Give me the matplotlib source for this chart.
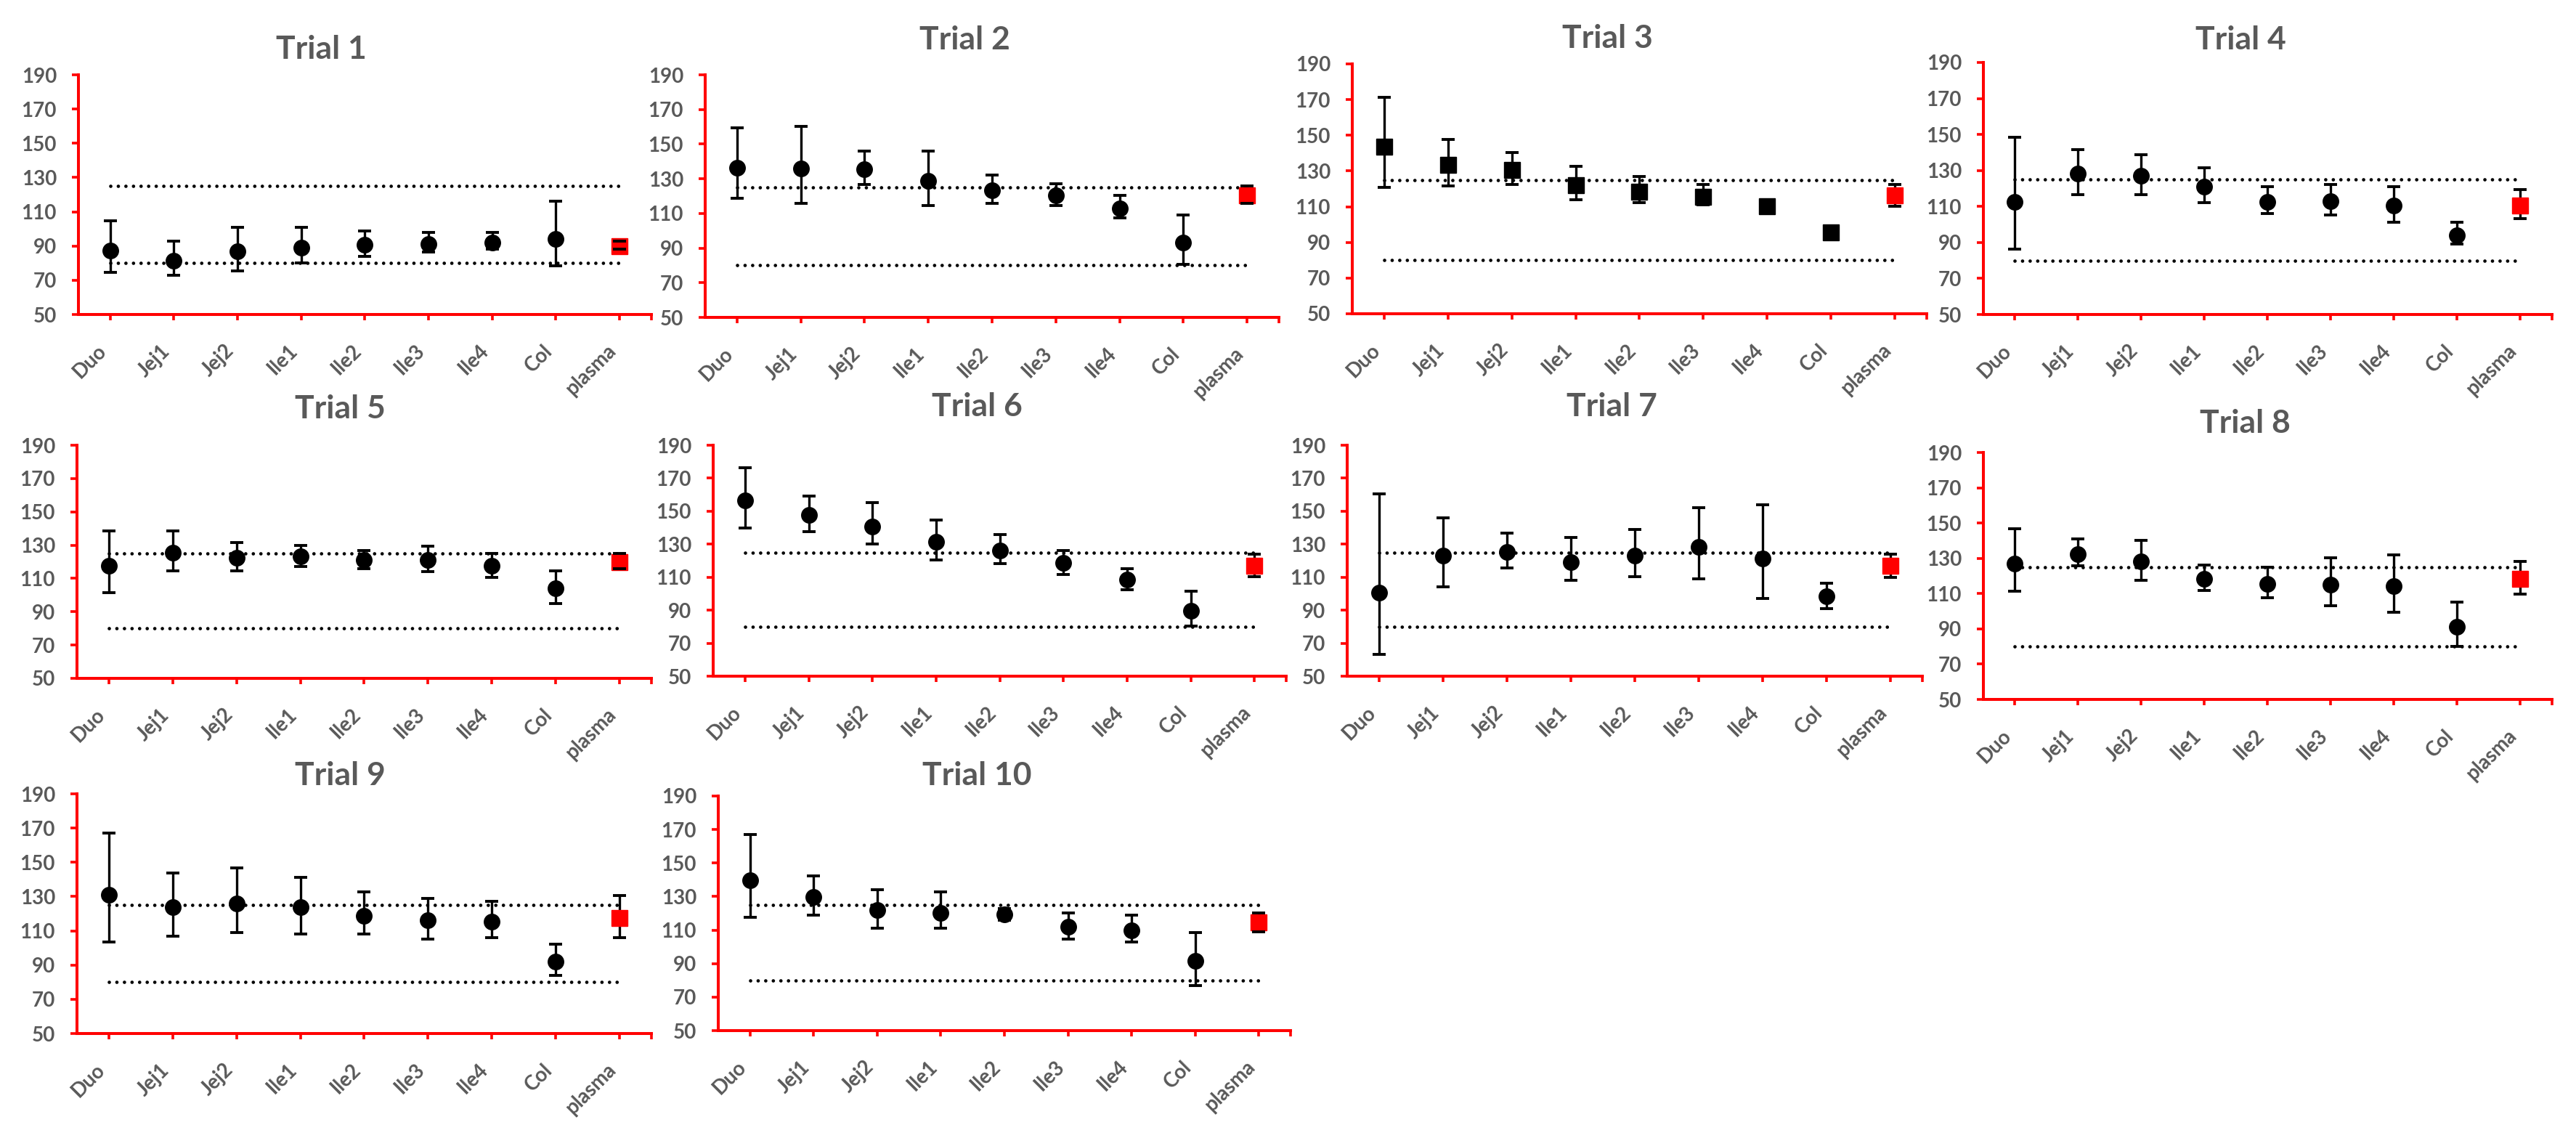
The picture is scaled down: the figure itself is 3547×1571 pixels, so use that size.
import matplotlib
matplotlib.use("Agg")
import matplotlib.pyplot as plt
import numpy as np

# ---------------- data ----------------
categories = ["Duo", "Jej1", "Jej2", "Ile1", "Ile2", "Ile3", "Ile4", "Col", "plasma"]
y_ticks = [50, 70, 90, 110, 130, 150, 170, 190]
ref_upper = 125
ref_lower = 80

t1_mean = [87.5, 81.5, 86.8, 88.9, 90.6, 91.3, 92.0, 94.1, 90.0]
t1_hi   = [104.7, 92.9, 100.9, 100.9, 98.8, 97.8, 97.8, 116.1, 92.9]
t1_lo   = [74.5, 73.1, 75.5, 80.1, 83.9, 86.4, 88.2, 78.3, 88.2]

t2_mean = [136.5, 135.8, 135.7, 128.7, 123.2, 120.3, 113.0, 93.0, 120.3]
t2_hi   = [159.2, 160.2, 145.9, 145.9, 132.2, 127.0, 120.3, 109.1, 126.0]
t2_lo   = [118.6, 115.8, 126.6, 114.4, 115.8, 114.7, 107.4, 80.8, 115.8]

t3_mean = [143.5, 133.6, 130.7, 121.9, 118.2, 115.7, 110.1, 95.5, 116.2]
t3_hi   = [171.2, 147.6, 140.4, 132.6, 126.8, 122.4, 113.0, 98.5, 122.4]
t3_lo   = [121.0, 121.6, 122.4, 113.9, 112.1, 111.2, 107.0, 92.5, 110.1]

t4_mean = [112.5, 128.2, 126.9, 120.9, 112.5, 113.1, 110.5, 94.1, 110.7]
t4_hi   = [148.5, 141.4, 138.7, 131.7, 120.9, 122.1, 120.9, 101.3, 119.5]
t4_lo   = [86.3, 116.5, 116.5, 112.2, 106.0, 105.1, 101.1, 89.0, 103.1]

t5_mean = [117.7, 125.6, 122.4, 123.1, 120.9, 120.9, 117.7, 103.9, 119.9]
t5_hi   = [138.4, 138.4, 131.4, 129.7, 126.8, 129.2, 125.0, 114.7, 125.0]
t5_lo   = [101.6, 114.7, 114.4, 117.3, 115.9, 114.1, 110.5, 95.1, 115.9]

t6_mean = [156.5, 147.8, 140.7, 131.6, 126.0, 118.7, 108.4, 89.7, 117.1]
t6_hi   = [176.5, 159.4, 155.4, 144.7, 136.0, 126.0, 115.3, 101.3, 123.8]
t6_lo   = [139.6, 137.5, 130.0, 120.4, 118.2, 111.8, 102.5, 80.4, 110.3]

t7_mean = [100.5, 122.9, 125.1, 119.3, 123.2, 128.4, 121.5, 98.3, 116.9]
t7_hi   = [160.7, 146.1, 136.6, 133.9, 139.1, 152.0, 153.8, 106.5, 124.1]
t7_lo   = [63.1, 104.2, 115.6, 108.0, 110.2, 109.0, 97.3, 90.9, 109.7]

t8_mean = [127.2, 132.2, 128.1, 118.5, 115.5, 115.1, 114.4, 91.0, 118.5]
t8_hi   = [146.7, 140.9, 140.1, 126.3, 125.0, 130.2, 132.0, 105.2, 128.4]
t8_lo   = [111.2, 125.6, 117.5, 111.6, 107.5, 103.0, 99.5, 80.0, 109.6]

t9_mean = [131.2, 123.8, 126.1, 123.8, 118.9, 116.2, 115.4, 92.0, 117.6]
t9_hi   = [167.1, 143.7, 146.7, 141.4, 132.7, 128.7, 127.2, 102.0, 130.7]
t9_lo   = [103.6, 107.0, 109.0, 108.1, 108.1, 105.2, 105.9, 84.1, 105.9]

t10_mean = [139.6, 129.7, 121.9, 120.3, 119.5, 112.1, 109.7, 91.5, 114.5]
t10_hi   = [167.1, 142.5, 133.9, 132.6, 123.0, 120.2, 118.8, 108.6, 120.3]
t10_lo   = [117.8, 118.8, 111.3, 111.3, 116.0, 104.7, 102.7, 77.0, 108.9]

trial_titles = ["Trial 1", "Trial 2", "Trial 3", "Trial 4", "Trial 5",
                "Trial 6", "Trial 7", "Trial 8", "Trial 9", "Trial 10"]
trial_data = [
    (t1_mean, t1_hi, t1_lo), (t2_mean, t2_hi, t2_lo), (t3_mean, t3_hi, t3_lo),
    (t4_mean, t4_hi, t4_lo), (t5_mean, t5_hi, t5_lo), (t6_mean, t6_hi, t6_lo),
    (t7_mean, t7_hi, t7_lo), (t8_mean, t8_hi, t8_lo), (t9_mean, t9_hi, t9_lo),
    (t10_mean, t10_hi, t10_lo),
]
marker_shapes = ["o", "o", "s", "o", "o", "o", "o", "o", "o", "o"]

# ---------------- layout (pixels) ----------------
W, H = 3548, 1571
# (left, top, right, bottom) of each plot area
rects = [
    (108, 103, 897, 433), (971, 103, 1761, 437), (1862, 88, 2653, 432), (2731, 86, 3514, 433),
    (106, 613, 897, 934), (982, 613, 1771, 931), (1855, 613, 2647, 931), (2731, 623, 3514, 963),
    (106, 1093, 897, 1423), (989, 1096, 1777, 1419),
]
title_pos = [
    (442, 68), (1328, 55), (2213, 53), (3085, 55),
    (468, 563), (1345, 560), (2219, 560), (3091, 583),
    (468, 1068), (1345, 1068),
]

RED = "#FF0000"
GREY = "#595959"
FONT = ["Lato", "DejaVu Sans"]
plt.rcParams["font.family"] = FONT

fig = plt.figure(figsize=(W / 100, H / 100), dpi=100)
fig.patch.set_facecolor("white")

x = np.arange(len(categories))
for i, (l, t, r, b) in enumerate(rects):
    ax = fig.add_axes([l / W, 1 - b / H, (r - l) / W, (b - t) / H])
    mean, hi, lo = (np.array(v) for v in trial_data[i])
    yerr = np.vstack([mean - lo, hi - mean])

    # reference lines (round dots)
    for ref in (ref_upper, ref_lower):
        ax.plot([x[0], x[-1]], [ref, ref], color="black", lw=3.4,
                linestyle=(0, (0.01, 2.2)), dash_capstyle="round",
                solid_capstyle="round", zorder=1)

    # error bars
    _, caps, bars = ax.errorbar(x, mean, yerr=yerr, fmt="none", ecolor="black",
                                elinewidth=2.4, capsize=6.5, capthick=2.8, zorder=2)
    for c in caps:
        c.set_zorder(4)

    # markers
    ax.plot(x[:-1], mean[:-1], linestyle="none", marker=marker_shapes[i],
            markersize=15.5 if marker_shapes[i] == "o" else 16,
            color="black", zorder=3)
    ax.plot(x[-1:], mean[-1:], linestyle="none", marker="s", markersize=15.5,
            color=RED, markeredgecolor=RED, zorder=3)

    ax.set_xlim(-0.5, 8.5)
    ax.set_ylim(50, 190)
    ax.set_yticks(y_ticks)
    ax.set_xticks(x)
    ax.set_xticks([8.5], minor=True)
    ax.set_xticklabels(categories, rotation=45, ha="right")

    for s in ["top", "right"]:
        ax.spines[s].set_visible(False)
    for s in ["left", "bottom"]:
        ax.spines[s].set_color(RED)
        ax.spines[s].set_linewidth(2.9)

    ax.tick_params(axis="y", which="major", direction="out", length=6.5, width=2.6,
                   color=RED, labelcolor=GREY, labelsize=20, pad=15)
    ax.tick_params(axis="x", which="both", direction="out", length=5.5, width=2.6,
                   color=RED, labelcolor=GREY, labelsize=20, pad=21)
    for lab in ax.get_xticklabels() + ax.get_yticklabels():
        lab.set_fontweight("bold")
    ax.set_facecolor("none")

    tx, ty = title_pos[i]
    fig.text(tx / W, 1 - ty / H, trial_titles[i], ha="center", va="center",
             fontsize=32, fontweight="bold", color=GREY)

fig.savefig("out.png", dpi=100, facecolor="white")
